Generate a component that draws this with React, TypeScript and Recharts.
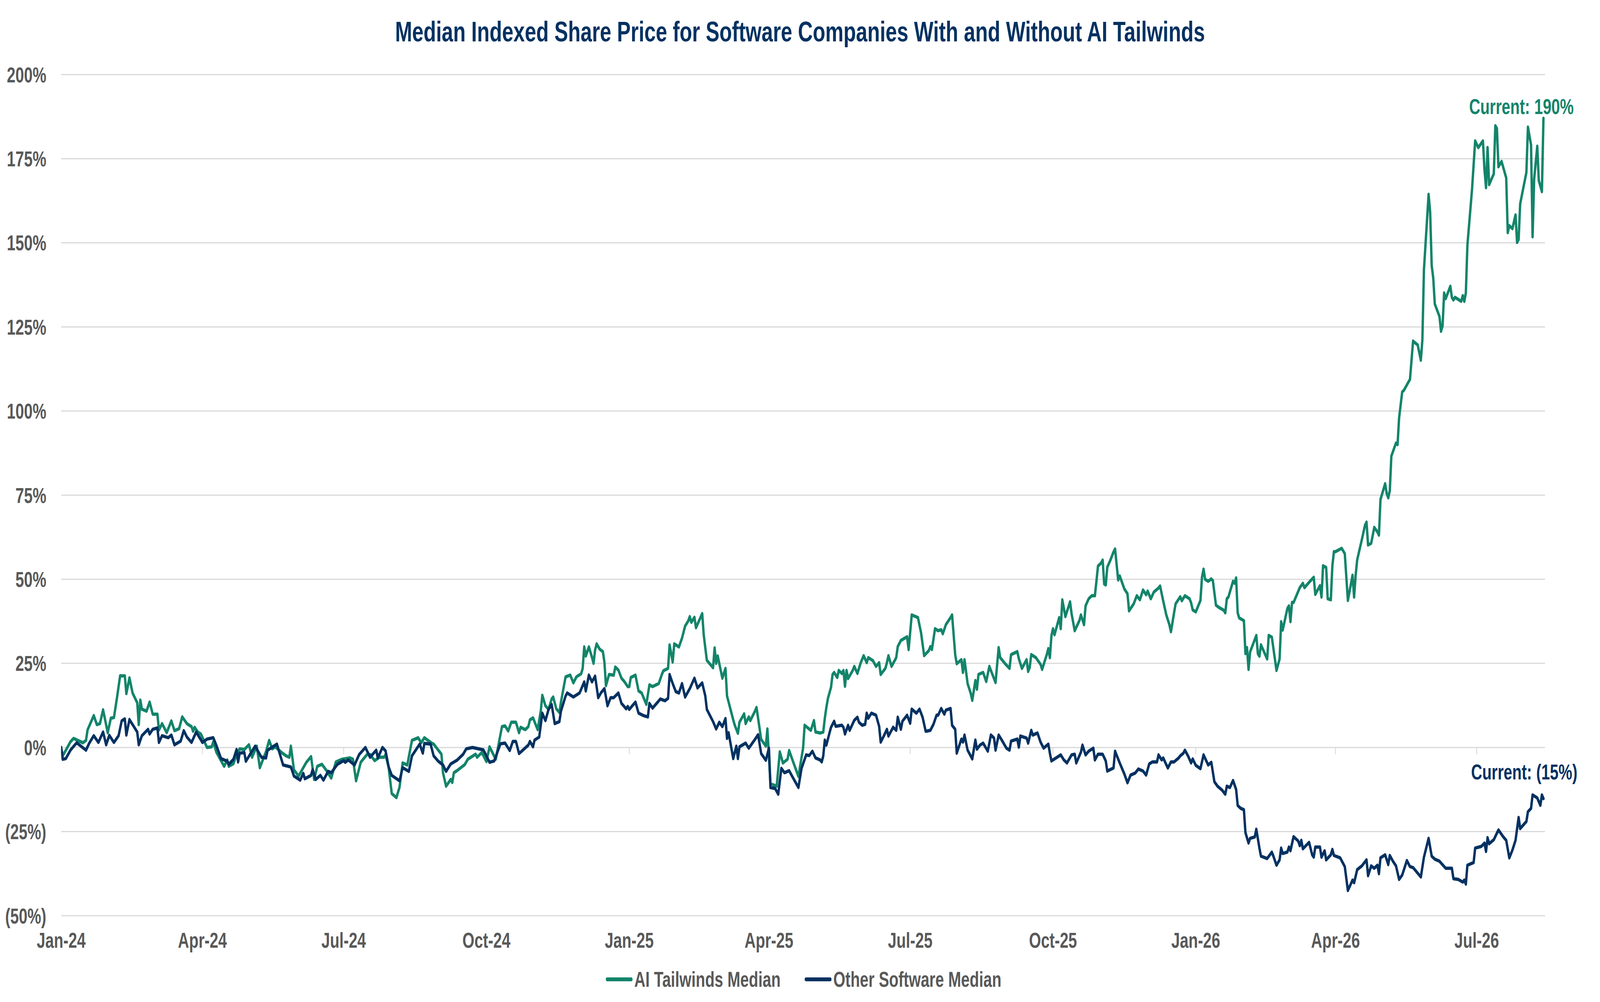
import React from "react";
import {
  LineChart,
  Line,
  XAxis,
  YAxis,
  CartesianGrid,
  Legend,
  ReferenceLine,
  LabelList,
} from "recharts";

// x values are days counted from 1 Jan 2024
const quarterTicks = [0, 91, 182, 274, 366, 456, 547, 639, 731, 821, 912];
const quarterLabels = [
  "Jan-24", "Apr-24", "Jul-24", "Oct-24", "Jan-25", "Apr-25",
  "Jul-25", "Oct-25", "Jan-26", "Apr-26", "Jul-26",
];
const yTicks = [-50, -25, 0, 25, 50, 75, 100, 125, 150, 175, 200];

// AI Tailwinds Median (indexed % change)
const aiDays = [
  0, 1, 6, 8, 14, 16, 17, 21, 23, 25,
  27, 30, 32, 34, 36, 38, 41, 42, 44, 46,
  49, 50, 51, 52, 55, 57, 59, 62, 63, 65,
  68, 71, 73, 76, 78, 81, 84, 85, 86, 88,
  90, 94, 97, 98, 100, 105, 107, 108, 111, 113,
  115, 118, 121, 123, 126, 128, 132, 134, 136, 138,
  142, 145, 147, 148, 150, 153, 156, 158, 161, 163,
  165, 168, 171, 174, 177, 181, 186, 188, 190, 193,
  197, 199, 202, 205, 208, 209, 211, 213, 216, 218,
  220, 223, 226, 230, 232, 234, 239, 240, 245, 246,
  248, 251, 252, 253, 255, 260, 262, 267, 268, 271,
  274, 276, 280, 284, 286, 288, 290, 293, 295, 296,
  299, 301, 302, 304, 307, 309, 310, 312, 314, 316,
  317, 319, 321, 322, 325, 328, 330, 332, 335, 336,
  337, 338, 340, 342, 343, 344, 345, 347, 349, 350,
  351, 353, 356, 357, 359, 361, 363, 365, 366, 367,
  370, 372, 374, 377, 379, 381, 385, 387, 388, 391,
  392, 394, 395, 398, 400, 402, 404, 405, 406, 408,
  409, 413, 414, 416, 420, 421, 422, 423, 426, 428,
  429, 433, 434, 436, 437, 440, 441, 443, 444, 447,
  448, 451, 454, 455, 457, 461, 463, 465, 468, 469,
  471, 475, 478, 479, 483, 485, 486, 489, 491, 492,
  493, 494, 496, 497, 498, 500, 501, 503, 504, 505,
  506, 507, 510, 511, 513, 515, 517, 519, 520, 523,
  525, 527, 528, 531, 532, 533, 535, 538, 539, 541,
  545, 546, 548, 552, 554, 556, 559, 560, 561, 563,
  565, 567, 568, 570, 573, 574, 576, 577, 580, 581,
  582, 584, 586, 587, 589, 590, 591, 594, 596, 598,
  600, 602, 604, 605, 608, 611, 612, 616, 617, 619,
  622, 623, 624, 625, 628, 631, 632, 635, 636, 637,
  638, 639, 640, 643, 644, 645, 647, 650, 651, 653,
  656, 657, 659, 660, 662, 664, 666, 668, 670, 671,
  672, 673, 674, 676, 678, 679, 681, 682, 685, 687,
  688, 691, 693, 695, 697, 699, 700, 702, 704, 707,
  708, 710, 712, 714, 715, 717, 718, 721, 722, 724,
  727, 728, 729, 731, 734, 735, 736, 737, 739, 741,
  742, 744, 746, 749, 750, 751, 752, 755, 756, 757,
  758, 759, 762, 763, 764, 765, 766, 770, 771, 772,
  773, 777, 778, 780, 783, 785, 786, 787, 790, 791,
  792, 793, 794, 798, 800, 801, 804, 806, 807, 808,
  811, 812, 813, 815, 816, 818, 819, 820, 821, 825,
  827, 829, 832, 833, 834, 835, 838, 840, 841, 842,
  844, 846, 848, 849, 850, 853, 854, 855, 856, 857,
  860, 861, 862, 864, 865, 868, 869, 870, 871, 874,
  876, 877, 878, 881, 882, 883, 884, 885, 888, 889,
  890, 891, 892, 895, 896, 897, 898, 902, 903, 904,
  905, 906, 909, 911, 913, 916, 917, 918, 919, 920,
  923, 924, 925, 926, 928, 931, 932, 933, 935, 937,
  938, 939, 940, 944, 945, 947, 948, 949, 951, 952,
  954, 955,
];
const aiValues = [
  0, -2.5, 1.7, 2.7, 1.4, 2.1, 5.2, 9.5, 6.8, 7.1,
  11.2, 4.4, 8.7, 8.9, 14.9, 21.3, 21.3, 16.0, 20.7, 16.2,
  13.3, 6.8, 14.1, 11.4, 10.8, 13.5, 9.9, 9.9, 5.2, 7.1,
  4.4, 7.9, 5.0, 5.6, 9.1, 7.1, 6.2, 4.8, 6.0, 4.6,
  4.0, 0, 0.2, 1.7, -1.4, -5.6, -3.7, -5.6, -4.8, -2.1,
  -0.4, -0.6, 0.8, -2.9, 0.4, -6.0, -1.2, 2.1, -0.4, 0.2,
  -1.5, -2.5, -2.9, 0.4, -6.7, -8.5, -6.0, -4.4, -2.7, -9.5,
  -5.6, -5.0, -6.9, -9.1, -4.3, -3.5, -3.1, -3.5, -9.9, -4.4,
  -2.1, -2.1, -3.9, -2.9, -2.9, -2.1, -6.0, -13.7, -14.9, -11.8,
  -4.6, -5.2, 2.1, 2.9, 1.4, 2.9, 1.2, 1.0, -2.0, -7.5,
  -11.5, -9.5, -10.4, -7.5, -6.9, -5.1, -3.5, -2.0, -2.9, -1.5,
  -4.2, 0.2, -3.5, 6.2, 6.4, 4.9, 7.5, 7.5, 4.4, 6.0,
  5.3, 6.2, 8.2, 8.8, 5.3, 10.8, 15.5, 12.4, 11.3, 14.4,
  15.0, 11.5, 10.4, 13.5, 21.0, 21.5, 19.2, 21.0, 21.9, 23.5,
  29.9, 27.2, 29.9, 26.8, 25.0, 29.0, 30.8, 29.2, 28.5, 25.4,
  18.4, 21.7, 21.5, 23.9, 23.0, 20.6, 19.5, 18.1, 18.1, 20.8,
  21.5, 16.8, 16.2, 12.8, 18.6, 18.1, 19.0, 21.7, 22.8, 23.5,
  30.5, 25.4, 30.8, 29.9, 32.5, 36.1, 37.6, 38.9, 37.2, 38.7,
  35.6, 39.8, 33.4, 25.9, 23.7, 29.6, 25.0, 27.2, 20.6, 23.5,
  15.3, 8.2, 6.6, 4.2, 7.5, 10.0, 7.1, 9.1, 8.0, 10.8,
  11.9, 2.4, 0.4, 5.5, -10.8, -11.5, -1.3, -4.6, -3.5, -0.9,
  -3.5, -8.6, -0.2, 6.6, 5.1, 8.0, 4.6, 4.3, 4.6, 8.7,
  11.9, 14.6, 17.9, 21.7, 22.3, 20.8, 22.9, 22.0, 22.9, 18.2,
  22.9, 20.5, 22.9, 24.1, 22.0, 25.0, 27.3, 25.2, 26.7, 25.8,
  24.1, 25.2, 21.7, 23.5, 25.2, 27.3, 24.1, 26.7, 30.0, 31.8,
  32.9, 29.1, 39.4, 38.6, 34.1, 27.3, 28.8, 30.0, 29.1, 35.3,
  34.7, 35.0, 33.8, 36.5, 38.6, 39.4, 27.6, 24.9, 26.1, 22.3,
  26.1, 19.0, 16.1, 14.0, 19.9, 17.3, 21.7, 22.3, 19.6, 24.1,
  21.7, 19.3, 29.7, 26.7, 25.0, 23.5, 27.6, 28.5, 26.4, 23.5,
  26.1, 22.6, 23.8, 27.6, 26.7, 24.7, 23.2, 27.6, 29.4, 26.7,
  33.2, 35.3, 33.5, 38.6, 35.3, 43.9, 38.9, 43.3, 39.7, 34.7,
  37.7, 39.4, 36.5, 42.1, 44.2, 45.1, 45.1, 53.9, 54.8, 55.7,
  48.6, 48.3, 53.6, 55.7, 58.1, 59.0, 49.8, 51.0, 47.1, 45.7,
  40.6, 42.7, 45.1, 43.9, 46.8, 45.4, 46.5, 44.2, 46.2, 47.4,
  48.0, 43.6, 39.4, 36.5, 34.4, 40.0, 42.7, 44.8, 43.6, 45.1,
  44.2, 43.0, 40.9, 40.3, 43.7, 50.6, 53.0, 50.0, 49.4, 50.1,
  49.6, 42.3, 41.6, 40.8, 40.0, 44.2, 44.7, 49.4, 48.8, 50.4,
  40.0, 38.5, 37.7, 27.9, 29.7, 23.2, 28.4, 33.3, 27.9, 27.1,
  30.5, 26.3, 33.3, 32.8, 22.9, 26.3, 37.4, 34.9, 41.3, 42.1,
  37.4, 43.1, 43.1, 47.5, 48.8, 47.5, 49.1, 50.1, 50.6, 45.5,
  48.1, 44.7, 54.0, 53.5, 44.2, 43.9, 54.0, 58.2, 58.2, 59.2,
  57.6, 43.7, 51.2, 44.7, 51.2, 55.8, 61.8, 66.0, 67.0, 60.2,
  60.7, 65.4, 64.1, 63.1, 73.7, 78.4, 75.5, 74.2, 76.3, 86.6,
  90.5, 90.0, 98.0, 105.7, 106.1, 108.6, 109.4, 115.1, 120.8, 119.6,
  115.1, 121.2, 142.0, 164.4, 159.1, 143.2, 139.5, 131.8, 128.1, 123.7,
  125.3, 135.1, 133.4, 137.1, 133.8, 133.0, 133.8, 132.6, 134.3, 132.6,
  135.1, 149.3, 166.0, 180.3, 178.3, 180.3, 171.7, 166.4, 178.3, 167.3,
  170.5, 184.8, 184.0, 172.6, 174.2, 169.3, 153.0, 155.1, 154.2, 158.3,
  150.1, 151.0, 161.6, 170.9, 184.4, 179.1, 151.8, 168.9, 178.7, 168.5,
  165.2, 187.0,
];

// Other Software Median (indexed % change)
const otherDays = [
  0, 1, 3, 6, 10, 16, 18, 21, 24, 27,
  29, 31, 34, 37, 39, 41, 42, 44, 49, 50,
  52, 56, 57, 59, 62, 63, 65, 69, 71, 73,
  77, 79, 81, 84, 87, 91, 94, 98, 100, 103,
  107, 108, 111, 113, 114, 115, 118, 119, 125, 129,
  132, 133, 139, 143, 148, 150, 154, 156, 157, 161,
  162, 164, 167, 169, 172, 174, 178, 182, 183, 185,
  189, 192, 196, 199, 203, 204, 207, 209, 211, 213,
  218, 220, 224, 226, 231, 233, 234, 238, 240, 243,
  246, 248, 251, 255, 259, 261, 265, 272, 276, 279,
  283, 286, 289, 291, 293, 295, 301, 302, 304, 305,
  308, 310, 312, 314, 316, 318, 321, 322, 325, 326,
  330, 334, 337, 338, 340, 342, 344, 346, 348, 350,
  352, 354, 356, 359, 361, 364, 365, 366, 370, 372,
  375, 378, 379, 381, 384, 386, 389, 391, 392, 394,
  396, 398, 400, 402, 405, 408, 410, 413, 415, 416,
  420, 422, 424, 426, 428, 429, 430, 433, 435, 436,
  437, 441, 443, 445, 447, 449, 451, 454, 456, 457,
  460, 462, 464, 466, 469, 471, 475, 477, 480, 482,
  484, 486, 489, 490, 491, 492, 493, 495, 496, 498,
  499, 503, 504, 505, 507, 508, 511, 513, 514, 516,
  518, 519, 520, 522, 525, 527, 528, 530, 532, 533,
  536, 538, 539, 541, 542, 545, 547, 548, 551, 553,
  555, 557, 560, 562, 564, 565, 567, 569, 570, 573,
  574, 576, 577, 580, 581, 582, 584, 587, 589, 590,
  592, 594, 597, 599, 601, 602, 604, 606, 609, 611,
  612, 616, 617, 618, 622, 623, 625, 626, 629, 631,
  633, 636, 637, 638, 642, 644, 646, 648, 651, 653,
  654, 657, 658, 660, 662, 665, 666, 668, 671, 673,
  674, 678, 679, 682, 685, 687, 689, 692, 694, 697,
  699, 701, 703, 706, 707, 709, 710, 713, 715, 717,
  720, 721, 723, 724, 726, 728, 729, 731, 734, 736,
  739, 741, 743, 745, 748, 750, 751, 753, 755, 757,
  758, 760, 762, 763, 765, 766, 769, 770, 772, 773,
  777, 780, 781, 783, 785, 786, 787, 790, 791, 792,
  794, 797, 798, 799, 800, 804, 806, 807, 808, 811,
  812, 814, 815, 818, 819, 820, 824, 827, 829, 832,
  833, 835, 838, 841, 842, 844, 846, 848, 849, 850,
  853, 855, 856, 858, 860, 862, 864, 867, 869, 871,
  876, 878, 881, 883, 885, 888, 892, 896, 897, 900,
  903, 904, 905, 906, 910, 911, 915, 917, 918, 919,
  920, 923, 926, 929, 931, 933, 935, 937, 939, 940,
  944, 945, 947, 948, 951, 953, 954, 955,
];
const otherValues = [
  0, -3.5, -3.3, -0.8, 1.4, -0.8, 1.2, 3.5, 1.5, 4.6,
  0.8, 3.6, 1.5, 3.5, 7.9, 8.5, 3.7, 8.3, 4.6, 0.8,
  3.5, 5.4, 4.0, 5.4, 5.8, 1.5, 3.5, 2.9, 3.7, 0.8,
  1.9, 5.0, 3.1, 1.5, 4.6, 1.5, 2.5, 2.9, 0.6, -3.3,
  -4.1, -5.0, -3.5, -0.6, -4.3, -1.7, -1.5, -4.1, 0.4, -2.9,
  -3.1, -0.8, 1.0, -5.2, -5.8, -8.5, -9.7, -7.7, -9.3, -8.3,
  -6.6, -9.5, -8.3, -9.7, -7.1, -7.5, -5.0, -3.9, -4.4, -3.7,
  -5.2, -2.1, 0, -2.9, -0.8, -3.1, 0, -1.0, -5.8, -8.3,
  -9.9, -6.0, -7.1, -2.5, 1.0, -1.7, 1.2, 1.0, -2.5, -4.1,
  -5.2, -7.1, -4.9, -3.8, -2.0, -0.4, 0, -0.7, -4.4, -4.0,
  1.1, 1.3, -0.9, 1.8, 1.8, -1.8, 0.7, 1.8, 0.2, 2.2,
  3.1, 10.2, 8.0, 11.3, 12.8, 7.1, 7.7, 10.8, 15.3, 16.2,
  15.0, 16.2, 19.5, 16.8, 21.5, 19.5, 21.2, 14.8, 16.4, 17.5,
  12.4, 14.8, 14.8, 16.2, 13.1, 11.5, 12.2, 11.3, 13.5, 10.2,
  9.5, 9.1, 13.1, 11.7, 13.3, 14.4, 13.9, 14.6, 21.7, 19.0,
  16.6, 16.2, 19.0, 15.0, 17.5, 20.6, 17.7, 19.2, 15.3, 11.3,
  7.7, 5.5, 7.5, 6.2, 8.6, 2.7, 4.4, -3.3, 0.4, -3.3,
  0.2, 1.3, -0.2, 1.1, 2.4, 3.8, -1.8, -3.8, -0.2, -11.9,
  -12.2, -13.9, -6.2, -7.5, -6.9, -8.6, -11.9, -6.2, -2.2, -2.4,
  -1.1, -3.1, -3.7, -4.3, -2.5, 2.2, 0.7, 4.3, 6.0, 7.8,
  6.3, 6.6, 6.0, 4.0, 6.6, 5.1, 8.1, 9.0, 7.5, 6.6,
  6.9, 10.2, 8.7, 10.2, 9.6, 6.3, 1.6, 3.4, 5.4, 3.4,
  6.0, 5.1, 9.0, 5.4, 7.8, 9.6, 7.2, 11.4, 10.2, 11.4,
  9.0, 4.8, 5.1, 6.9, 9.6, 9.6, 11.6, 9.9, 11.1, 11.6,
  6.6, 5.4, -1.7, 2.5, 1.6, 3.7, -0.8, -3.4, 2.2, -0.5,
  0.7, 1.3, -1.1, 3.7, 2.8, -0.8, 3.7, 2.2, -0.2, -0.8,
  1.9, 2.5, 0.1, 3.4, 2.8, 1.3, 5.1, 3.7, 4.3, 1.6,
  -0.2, 1.0, -1.7, -4.0, -2.8, -2.2, -3.7, -4.6, -2.2, -2.0,
  -4.6, -1.4, 0.7, -2.2, -1.1, -0.2, -3.7, -2.0, -2.0, -4.0,
  -7.0, -6.1, -1.1, -4.6, -7.9, -10.5, -8.2, -7.6, -6.4, -7.0,
  -8.2, -4.9, -4.3, -4.3, -2.2, -3.7, -3.1, -6.1, -4.3, -4.3,
  -3.1, -2.5, -1.7, -0.8, -2.5, -4.6, -3.4, -5.3, -6.3, -2.2,
  -5.2, -4.4, -10.2, -11.5, -12.7, -13.9, -11.5, -11.9, -9.8, -12.5,
  -17.2, -18.1, -18.5, -25.3, -28.4, -27.0, -26.6, -24.3, -29.9, -32.3,
  -33.0, -31.1, -32.3, -35.0, -33.4, -29.9, -31.5, -31.1, -29.6, -30.7,
  -26.5, -27.8, -29.2, -27.6, -30.1, -28.2, -31.9, -32.6, -29.6, -29.6,
  -32.6, -30.7, -33.4, -31.9, -30.3, -32.1, -32.8, -35.4, -42.5, -39.4,
  -40.2, -36.3, -35.2, -33.4, -38.1, -35.2, -35.9, -35.0, -37.5, -32.8,
  -31.9, -34.8, -32.1, -33.8, -35.2, -39.2, -37.9, -33.6, -35.4, -35.7,
  -38.5, -32.6, -27.0, -32.3, -33.2, -33.8, -35.9, -35.9, -39.0, -39.2,
  -40.0, -39.4, -40.6, -35.0, -34.2, -29.9, -29.4, -28.4, -30.9, -26.8,
  -28.6, -27.4, -24.5, -26.5, -27.6, -32.8, -30.5, -27.6, -20.8, -24.1,
  -22.0, -19.1, -18.1, -14.1, -15.0, -17.2, -14.1, -15.2,
];

const GREEN = "#13846A";
const NAVY = "#033161";
const GREY = "#595959";
const GRID = "#D9D9D9";
const FONT = '"Liberation Sans", Arial, Helvetica, sans-serif';

const CHART_W = 5703;
const CHART_H = 2566;

const aiSeries = aiDays.map((d, i) => ({ day: d, value: aiValues[i] }));
const otherSeries = otherDays.map((d, i) => ({ day: d, value: otherValues[i] }));

const pct = (v: number) => (v < 0 ? `(${Math.abs(v)}%)` : `${v}%`);

const axisTick = { fill: GREY, fontSize: 55, fontWeight: 700, fontFamily: FONT };

function currentLabel(count: number, text: string, color: string, dx: number, dy: number) {
  return (props: any) => {
    if (props.index !== count - 1) return null;
    return (
      <text
        x={Number(props.x) + dx}
        y={Number(props.y) + dy}
        fill={color}
        fontSize={55}
        fontWeight={700}
        fontFamily={FONT}
      >
        {text}
      </text>
    );
  };
}

function LegendContent(props: any) {
  const items = props.payload || [];
  return (
    <div
      style={{
        display: "flex",
        justifyContent: "center",
        alignItems: "center",
        height: 80,
        paddingLeft: 25,
        fontFamily: FONT,
        fontWeight: 700,
        fontSize: 55,
        color: GREY,
      }}
    >
      {items.map((p: any, i: number) => (
        <div
          key={p.value}
          style={{
            display: "flex",
            alignItems: "center",
            marginRight: i === items.length - 1 ? 0 : 86,
          }}
        >
          <svg width={96} height={12}>
            <line
              x1={5}
              y1={6}
              x2={91}
              y2={6}
              stroke={p.color}
              strokeWidth={10}
              strokeLinecap="round"
            />
          </svg>
          <span style={{ marginLeft: 6 }}>{p.value}</span>
        </div>
      ))}
    </div>
  );
}

export default function App() {
  // the browser window may be narrower than the chart: squeeze it horizontally to fit
  const sx = Math.min(1, window.innerWidth / CHART_W);

  return (
    <div
      style={{
        position: "absolute",
        left: 0,
        top: 0,
        width: CHART_W,
        height: CHART_H,
        background: "#ffffff",
        transform: `scale(${sx}, 1)`,
        transformOrigin: "0 0",
      }}
    >
      <LineChart
        width={CHART_W}
        height={CHART_H}
        margin={{ top: 191, right: 196, left: 0, bottom: 18 }}
      >
        <CartesianGrid vertical={false} stroke={GRID} strokeWidth={3} />

        <XAxis
          type="number"
          dataKey="day"
          domain={[0, 956]}
          ticks={quarterTicks}
          interval={0}
          tickFormatter={(v: number) => quarterLabels[quarterTicks.indexOf(v)]}
          axisLine={false}
          tickLine={false}
          tickSize={0}
          tickMargin={43}
          height={123}
          tick={axisTick}
          allowDataOverflow
        />

        <YAxis
          type="number"
          domain={[-50, 200]}
          ticks={yTicks}
          interval={0}
          tickFormatter={pct}
          axisLine={false}
          tickLine={false}
          tickSize={0}
          tickMargin={53}
          width={218}
          tick={axisTick}
        />

        {quarterTicks.map((t) => (
          <ReferenceLine
            key={t}
            segment={[
              { x: t, y: 0 },
              { x: t, y: -2 },
            ]}
            stroke={GRID}
            strokeWidth={3}
            ifOverflow="visible"
          />
        ))}

        <Legend
          verticalAlign="bottom"
          wrapperStyle={{ left: 0, width: CHART_W }}
          content={<LegendContent />}
        />

        <Line
          data={aiSeries}
          dataKey="value"
          name="AI Tailwinds Median"
          type="linear"
          stroke={GREEN}
          strokeWidth={8.5}
          strokeLinejoin="round"
          strokeLinecap="round"
          dot={false}
          activeDot={false}
          isAnimationActive={false}
        >
          <LabelList
            dataKey="value"
            content={currentLabel(aiSeries.length, "Current: 190%", GREEN, -265, -11)}
          />
        </Line>

        <Line
          data={otherSeries}
          dataKey="value"
          name="Other Software Median"
          type="linear"
          stroke={NAVY}
          strokeWidth={8.5}
          strokeLinejoin="round"
          strokeLinecap="round"
          dot={false}
          activeDot={false}
          isAnimationActive={false}
        >
          <LabelList
            dataKey="value"
            content={currentLabel(otherSeries.length, "Current: (15%)", NAVY, -258, -49)}
          />
        </Line>
      </LineChart>

      <div
        style={{
          position: "absolute",
          top: 44,
          left: 0,
          width: CHART_W,
          textAlign: "center",
          fontFamily: FONT,
          fontWeight: 700,
          fontSize: 73,
          lineHeight: "73px",
          color: NAVY,
        }}
      >
        Median Indexed Share Price for Software Companies With and Without AI Tailwinds
      </div>
    </div>
  );
}
